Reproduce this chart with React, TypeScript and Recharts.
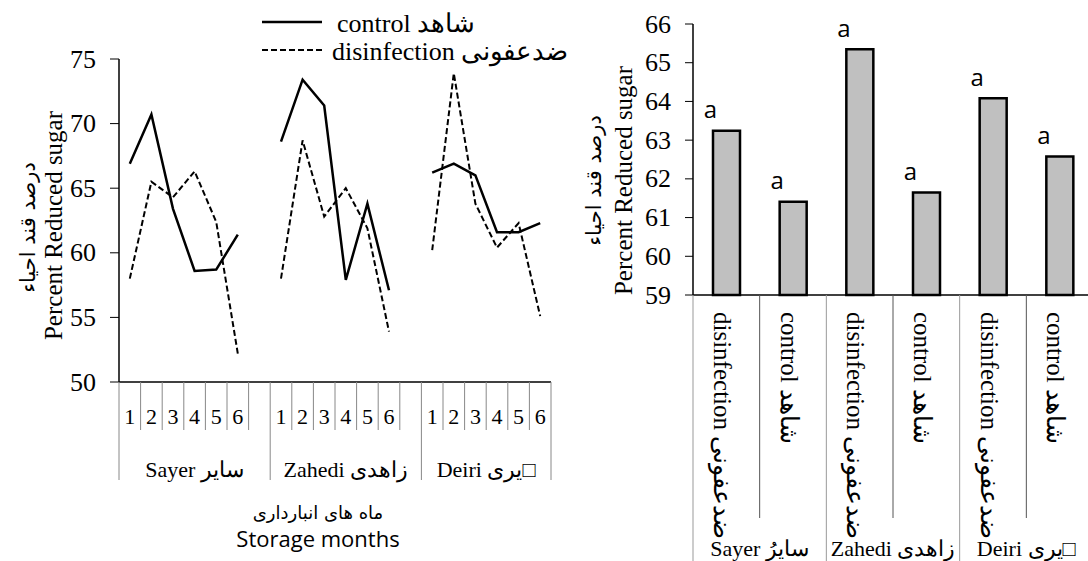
import React from 'react';
import { LineChart, Line, BarChart, Bar, XAxis, YAxis, Legend, LabelList } from 'recharts';

// storage months and varieties (left chart)
const months = ['1', '2', '3', '4', '5', '6'];
const varieties = ['Sayer سایر', 'Zahedi زاهدی', 'Deiri یری□'];

const controlSayer = [66.9, 70.7, 63.4, 58.6, 58.7, 61.4];
const controlZahedi = [68.6, 73.4, 71.4, 57.9, 63.8, 57.1];
const controlDeiri = [66.2, 66.9, 66.0, 61.6, 61.6, 62.3];

const disinfSayer = [58.0, 65.5, 64.3, 66.3, 62.4, 52.2];
const disinfZahedi = [58.0, 68.7, 62.8, 65.0, 61.9, 53.9];
const disinfDeiri = [60.2, 73.9, 63.8, 60.4, 62.3, 55.1];

const lineTicks = [50, 55, 60, 65, 70, 75];

// right chart
const barGroups = ['Sayer سایرُ', 'Zahedi زاهدی', 'Deiri یری□'];
const treatments = ['disinfection ضدعفونی', 'control شاهد'];
const barValues = [63.24, 61.41, 65.35, 61.65, 64.08, 62.58];
const barLetters = ['a', 'a', 'a', 'a', 'a', 'a'];
const barTicks = [59, 60, 61, 62, 63, 64, 65, 66];

const SERIF = "'Liberation Serif', 'Times New Roman', serif";
const SANS = "'Open Sans', 'Liberation Sans', sans-serif";
const FA = "'DejaVu Sans', sans-serif";

const controlRows = [controlSayer, controlZahedi, controlDeiri];
const disinfRows = [disinfSayer, disinfZahedi, disinfDeiri];

type LineRow = { slot: string; month: string; group: number; control: number | null; disinfection: number | null };
const lineData: LineRow[] = [];
varieties.forEach((_, g) => {
  months.forEach((m, i) => {
    lineData.push({ slot: `${g}-${m}`, month: m, group: g, control: controlRows[g][i], disinfection: disinfRows[g][i] });
  });
  if (g < varieties.length - 1) {
    lineData.push({ slot: `${g}-gap`, month: '', group: g, control: null, disinfection: null });
  }
});

const barData = barValues.map((v, i) => ({
  id: `bar-${i}`,
  name: treatments[i % treatments.length],
  group: Math.floor(i / treatments.length),
  value: v,
  letter: barLetters[i],
}));

// layout
const L_W = 560;
const L_H = 561;
const L_YW = 119;
const L_MR = 9;
const L_SLOT = (L_W - L_YW - L_MR) / lineData.length;

const R_W = 540;
const R_H = 561;
const R_YW = 133;
const R_MR = 7;
const R_CAT = (R_W - R_YW - R_MR) / barData.length;

const serifStyle = { fontFamily: SERIF };

const MonthTick = (props: any) => {
  const { x, y, index } = props;
  const row = lineData[index];
  if (!row) return null;
  const half = L_SLOT / 2;
  const first = index === 0 || lineData[index - 1].group !== row.group;
  const last = index === lineData.length - 1;
  const span = lineData.filter((r) => r.group === row.group).length;
  return (
    <g>
      <line x1={x - half} y1={y} x2={x - half} y2={first ? y + 98 : y + 48} stroke="#888" strokeWidth={1} />
      {last && <line x1={x + half} y1={y} x2={x + half} y2={y + 98} stroke="#888" strokeWidth={1} />}
      <text x={x} y={y + 34} textAnchor="middle" dominantBaseline="central" style={serifStyle} fontSize={22} fill="#000">
        {row.month}
      </text>
      {first && (
        <text
          x={x - half + (span * L_SLOT) / 2}
          y={y + 87}
          textAnchor="middle"
          dominantBaseline="central"
          style={serifStyle}
          fontSize={22}
          fill="#000"
        >
          {varieties[row.group]}
        </text>
      )}
    </g>
  );
};

const TreatmentTick = (props: any) => {
  const { x, y, index } = props;
  const row = barData[index];
  if (!row) return null;
  const half = R_CAT / 2;
  const first = index === 0 || barData[index - 1].group !== row.group;
  const last = index === barData.length - 1;
  const tx = x - 4;
  const ty = y + 17;
  return (
    <g>
      <line x1={x - half} y1={y} x2={x - half} y2={first ? R_H : y + 223} stroke={first ? '#999' : '#555'} strokeWidth={1} />
      {last && <line x1={x + half} y1={y} x2={x + half} y2={R_H} stroke="#999" strokeWidth={1} />}
      <text
        x={tx}
        y={ty}
        transform={`rotate(90, ${tx}, ${ty})`}
        textAnchor="start"
        dominantBaseline="central"
        style={serifStyle}
        fontSize={25}
        fill="#000"
      >
        {row.name}
      </text>
      {first && (
        <text x={x + half} y={y + 253} textAnchor="middle" dominantBaseline="central" style={serifStyle} fontSize={22} fill="#000">
          {barGroups[row.group]}
        </text>
      )}
    </g>
  );
};

const ValueTick = (props: any) => {
  const { x, y, payload } = props;
  return (
    <text x={x} y={y} textAnchor="end" dominantBaseline="central" style={serifStyle} fontSize={26} fill="#000">
      {payload.value}
    </text>
  );
};

const YTitle = (props: any) => {
  const { viewBox, xEn, xFa, dy, dyFa } = props;
  const cy = viewBox.y + viewBox.height / 2 + dy;
  const cyFa = cy + dyFa;
  return (
    <g>
      <text
        x={xEn}
        y={cy}
        transform={`rotate(-90, ${xEn}, ${cy})`}
        textAnchor="middle"
        dominantBaseline="central"
        style={serifStyle}
        fontSize={25}
        fill="#000"
      >
        Percent Reduced sugar
      </text>
      <text
        x={xFa}
        y={cyFa}
        transform={`rotate(-90, ${xFa}, ${cyFa})`}
        textAnchor="middle"
        dominantBaseline="central"
        style={{ fontFamily: FA }}
        fontSize={21}
        fill="#000"
      >
        درصد قند احیاء
      </text>
    </g>
  );
};

const XTitle = (props: any) => {
  const { viewBox } = props;
  const cx = viewBox.x + viewBox.width / 2 - 17;
  return (
    <g>
      <text x={cx} y={viewBox.y + 130} textAnchor="middle" dominantBaseline="central" style={{ fontFamily: FA }} fontSize={18} fill="#000">
        ماه های انبارداری
      </text>
      <text x={cx} y={viewBox.y + 156} textAnchor="middle" dominantBaseline="central" style={{ fontFamily: SANS }} fontSize={22} fill="#000">
        Storage months
      </text>
    </g>
  );
};

const LineLegend = () => (
  <svg width={330} height={64} style={{ overflow: 'visible' }}>
    <line x1={7} y1={22} x2={67} y2={22} stroke="#000" strokeWidth={2.5} />
    <text x={82} y={23} dominantBaseline="central" style={serifStyle} fontSize={26} fill="#000">
      control شاهد
    </text>
    <line x1={7} y1={50} x2={70} y2={50} stroke="#000" strokeWidth={2} strokeDasharray="6 3" />
    <text x={77} y={51} dominantBaseline="central" style={serifStyle} fontSize={26} fill="#000">
      disinfection ضدعفونی
    </text>
  </svg>
);

const LetterLabel = (props: any) => {
  const { x, y, width, value } = props;
  return (
    <text x={x + width / 2 - 16} y={y - 22} textAnchor="middle" dominantBaseline="central" style={{ fontFamily: SANS }} fontSize={24} fill="#000">
      {value}
    </text>
  );
};

const ReducedSugarLines = () => (
  <LineChart width={L_W} height={L_H} data={lineData} margin={{ top: 59, right: L_MR, left: 0, bottom: 79 }}>
    <XAxis
      dataKey="slot"
      type="category"
      interval={0}
      height={100}
      padding={{ left: L_SLOT / 2, right: L_SLOT / 2 }}
      tickSize={0}
      tickMargin={0}
      tickLine={false}
      axisLine={{ stroke: '#000', strokeWidth: 1.5 }}
      tick={<MonthTick />}
      label={<XTitle />}
    />
    <YAxis
      width={L_YW}
      domain={[50, 75]}
      ticks={lineTicks}
      interval={0}
      tickSize={9}
      tickMargin={14}
      axisLine={{ stroke: '#000', strokeWidth: 1.5 }}
      tickLine={{ stroke: '#000' }}
      tick={<ValueTick />}
      label={<YTitle xEn={53} xFa={28} dy={5} dyFa={2} />}
    />
    <Legend
      layout="horizontal"
      verticalAlign="middle"
      align="center"
      wrapperStyle={{ top: 0, left: 255, width: 330, height: 64 }}
      content={<LineLegend />}
    />
    <Line dataKey="control" stroke="#000" strokeWidth={2.5} dot={false} connectNulls={false} isAnimationActive={false} />
    <Line dataKey="disinfection" stroke="#000" strokeWidth={2} strokeDasharray="6 3" dot={false} connectNulls={false} isAnimationActive={false} />
  </LineChart>
);

const ReducedSugarBars = () => (
  <BarChart width={R_W} height={R_H} data={barData} margin={{ top: 24, right: R_MR, left: 0, bottom: 166 }}>
    <XAxis
      dataKey="id"
      type="category"
      interval={0}
      height={100}
      tickSize={0}
      tickMargin={0}
      tickLine={false}
      axisLine={{ stroke: '#000', strokeWidth: 1.5 }}
      tick={<TreatmentTick />}
    />
    <YAxis
      width={R_YW}
      domain={[59, 66]}
      ticks={barTicks}
      interval={0}
      tickSize={8}
      tickMargin={14}
      axisLine={{ stroke: '#000', strokeWidth: 1.5 }}
      tickLine={{ stroke: '#000' }}
      tick={<ValueTick />}
      label={<YTitle xEn={63} xFa={34} dy={21} dyFa={0} />}
    />
    <Bar dataKey="value" fill="#c0c0c0" stroke="#000" strokeWidth={2.5} barSize={27} isAnimationActive={false}>
      <LabelList dataKey="letter" content={<LetterLabel />} />
    </Bar>
  </BarChart>
);

export default function App() {
  return (
    <div style={{ position: 'absolute', left: 0, top: 0, width: 1088, height: 561, overflow: 'hidden', background: '#fff', fontFamily: SERIF }}>
      <div style={{ position: 'absolute', left: 0, top: 0 }}>
        <ReducedSugarLines />
      </div>
      <div style={{ position: 'absolute', left: 560, top: 0 }}>
        <ReducedSugarBars />
      </div>
    </div>
  );
}
